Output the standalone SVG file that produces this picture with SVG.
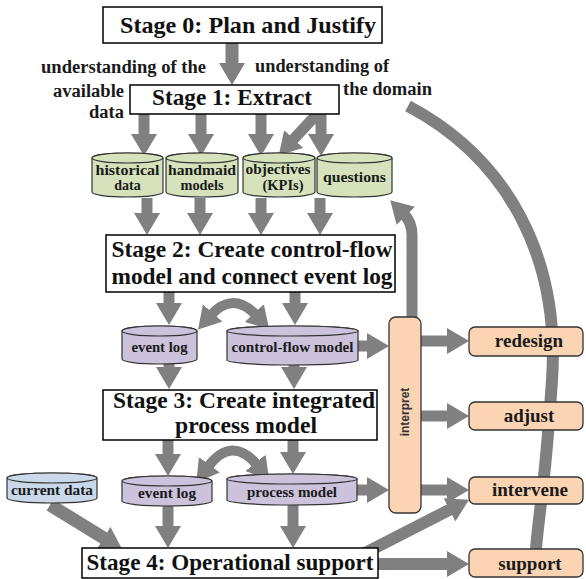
<svg xmlns="http://www.w3.org/2000/svg" width="586" height="579" viewBox="0 0 586 579">
<defs>
<marker id="ah" markerUnits="userSpaceOnUse" markerWidth="22" markerHeight="26" viewBox="0 0 22 26" refX="4" refY="13" orient="auto-start-reverse"><path d="M0,0 L22,13 L0,26 Z" fill="#808080"/></marker>
</defs>
<style>
.ar{fill:none;stroke:#808080;stroke-width:11;marker-end:url(#ah)}
.dbl{marker-start:url(#ah);stroke-width:10}
.box{fill:#fff;stroke:#000;stroke-width:1.5}
.st{font-family:"Liberation Serif",serif;font-weight:bold;font-size:23px;fill:#111;text-anchor:middle}
.lb{font-family:"Liberation Serif",serif;font-weight:bold;font-size:18.5px;fill:#1a1a1a}
.cy{font-family:"Liberation Serif",serif;font-weight:bold;font-size:14px;fill:#1a1a1a;text-anchor:middle}
.green{fill:#d5e2bb;stroke:#333;stroke-width:1.2}
.purple{fill:#ccc2dc;stroke:#333;stroke-width:1.2}
.blue{fill:#c9d9ea;stroke:#333;stroke-width:1.2}
.peach{fill:#fbd4b4;stroke:#333;stroke-width:1.3}
.act{font-family:"Liberation Serif",serif;font-weight:bold;font-size:19px;fill:#1a1a1a;text-anchor:middle}
.vt{font-family:"Liberation Sans",sans-serif;font-weight:bold;font-size:12px;fill:#333;text-anchor:middle}
</style>

<g id="connectors">
<path d="M408,106 C510,160 560,260 552,380 S540,500 536,549" fill="none" stroke="#808080" stroke-width="12"/>
<path class="ar" d="M232,43 V67" style="stroke-width:13"/>
<path class="ar" d="M144,114 V138"/>
<path class="ar" d="M201,114 V138"/>
<path class="ar" d="M261,114 V138"/>
<path class="ar" d="M321,114 V138"/>
<path class="ar" d="M317,114 L291,142"/>
<path class="ar" d="M147,198 V217"/>
<path class="ar" d="M200,198 V217"/>
<path class="ar" d="M261,198 V217"/>
<path class="ar" d="M320,198 V217"/>
<path class="ar" d="M169,292 V307"/>
<path class="ar" d="M295,292 V307"/>
<path class="ar dbl" d="M210,316 Q233,290 257,316"/>
<path class="ar" d="M169,364 V371"/>
<path class="ar" d="M294,365 V371"/>
<path class="ar" d="M358,346 H371"/>
<path class="ar" d="M168,440 V458"/>
<path class="ar" d="M293,440 V456"/>
<path class="ar dbl" d="M207,468 Q232,434 258,466"/>
<path class="ar" d="M357,490 H371"/>
<path class="ar" d="M421,341 H451"/>
<path class="ar" d="M421,416 H451"/>
<path class="ar" d="M421,490 H451"/>
<path class="ar" d="M412,317 V235 Q412,222 403,213"/>
<path class="ar" d="M50,505 L107,540" style="stroke-width:13"/>
<path class="ar" d="M168,506 V530"/>
<path class="ar" d="M293,505 V530"/>
<path class="ar" d="M365,553 L453,508" style="stroke-width:12"/>
<path class="ar" d="M378,564 H451" style="stroke-width:12"/>
</g>

<g id="label-data">
<text class="lb" x="41" y="73" textLength="165" lengthAdjust="spacingAndGlyphs">understanding of the</text>
<text class="lb" x="124" y="97" text-anchor="end">available</text>
<text class="lb" x="124" y="118" text-anchor="end">data</text>
</g>
<g id="label-domain">
<text class="lb" x="255" y="72" textLength="134" lengthAdjust="spacingAndGlyphs">understanding of</text>
<text class="lb" x="343" y="95" textLength="89" lengthAdjust="spacingAndGlyphs">the domain</text>
</g>

<g id="n-stage0">
<rect class="box" x="103" y="7" width="279" height="36"/>
<text class="st" x="248" y="33" textLength="256" lengthAdjust="spacingAndGlyphs">Stage 0: Plan and Justify</text>
</g>
<g id="n-stage1">
<rect class="box" x="130" y="85" width="209" height="29"/>
<text class="st" x="232" y="105" textLength="160" lengthAdjust="spacingAndGlyphs">Stage 1: Extract</text>
</g>

<g id="n-historical">
<path class="green" d="M92,158 V192 A35.5,5 0 0 0 163,192 V158 A35.5,5 0 0 0 92,158 Z"/>
<ellipse class="green" cx="127.5" cy="158" rx="35.5" ry="5"/>
<text class="cy" x="127.5" y="175" textLength="64" lengthAdjust="spacingAndGlyphs">historical</text>
<text class="cy" x="127.5" y="190">data</text>
</g>
<g id="n-handmaid">
<path class="green" d="M166,158 V192 A36,5 0 0 0 238,192 V158 A36,5 0 0 0 166,158 Z"/>
<ellipse class="green" cx="202" cy="158" rx="36" ry="5"/>
<text class="cy" x="202" y="175" textLength="68" lengthAdjust="spacingAndGlyphs">handmaid</text>
<text class="cy" x="202" y="190" textLength="43" lengthAdjust="spacingAndGlyphs">models</text>
</g>
<g id="n-objectives">
<path class="green" d="M243,158 V192 A36,5 0 0 0 315,192 V158 A36,5 0 0 0 243,158 Z"/>
<ellipse class="green" cx="279" cy="158" rx="36" ry="5"/>
<text class="cy" x="278" y="174" textLength="65" lengthAdjust="spacingAndGlyphs">objectives</text>
<text class="cy" x="283" y="190" textLength="41" lengthAdjust="spacingAndGlyphs">(KPIs)</text>
</g>
<g id="n-questions">
<path class="green" d="M317,158 V192 A37.5,5 0 0 0 392,192 V158 A37.5,5 0 0 0 317,158 Z"/>
<ellipse class="green" cx="354.5" cy="158" rx="37.5" ry="5"/>
<text class="cy" x="354.5" y="182" textLength="63" lengthAdjust="spacingAndGlyphs">questions</text>
</g>

<g id="n-stage2">
<rect class="box" x="106" y="235" width="289" height="57"/>
<text class="st" x="252" y="257" textLength="281" lengthAdjust="spacingAndGlyphs">Stage 2: Create control-flow</text>
<text class="st" x="252" y="284" textLength="281" lengthAdjust="spacingAndGlyphs">model and connect event log</text>
</g>

<g id="n-eventlog1">
<path class="purple" d="M122,331 V359 A37.5,5 0 0 0 197,359 V331 A37.5,5 0 0 0 122,331 Z"/>
<ellipse class="purple" cx="159.5" cy="331" rx="37.5" ry="5"/>
<text class="cy" x="159.5" y="352" textLength="56" lengthAdjust="spacingAndGlyphs">event log</text>
</g>
<g id="n-controlflow">
<path class="purple" d="M227,331 V360 A65.5,5 0 0 0 358,360 V331 A65.5,5 0 0 0 227,331 Z"/>
<ellipse class="purple" cx="292.5" cy="331" rx="65.5" ry="5"/>
<text class="cy" x="292.5" y="352" textLength="122" lengthAdjust="spacingAndGlyphs">control-flow model</text>
</g>

<g id="n-stage3">
<rect class="box" x="103" y="390" width="274" height="50"/>
<text class="st" x="244" y="408" textLength="262" lengthAdjust="spacingAndGlyphs">Stage 3: Create integrated</text>
<text class="st" x="246" y="433" textLength="142" lengthAdjust="spacingAndGlyphs">process model</text>
</g>

<g id="n-currentdata">
<path class="blue" d="M7,478 V498 A45,5 0 0 0 97,498 V478 A45,5 0 0 0 7,478 Z"/>
<ellipse class="blue" cx="52" cy="478" rx="45" ry="5"/>
<text class="cy" x="52" y="495" textLength="82" lengthAdjust="spacingAndGlyphs">current data</text>
</g>
<g id="n-eventlog2">
<path class="purple" d="M122,481 V501 A45,5 0 0 0 212,501 V481 A45,5 0 0 0 122,481 Z"/>
<ellipse class="purple" cx="167" cy="481" rx="45" ry="5"/>
<text class="cy" x="167" y="498" textLength="58" lengthAdjust="spacingAndGlyphs">event log</text>
</g>
<g id="n-processmodel">
<path class="purple" d="M227,479 V500 A65,5 0 0 0 357,500 V479 A65,5 0 0 0 227,479 Z"/>
<ellipse class="purple" cx="292" cy="479" rx="65" ry="5"/>
<text class="cy" x="292" y="497" textLength="90" lengthAdjust="spacingAndGlyphs">process model</text>
</g>

<g id="n-stage4">
<rect class="box" x="82" y="548" width="296" height="30"/>
<text class="st" x="230" y="570" textLength="287" lengthAdjust="spacingAndGlyphs">Stage 4: Operational support</text>
</g>

<g id="n-interpret">
<rect class="peach" x="389" y="317" width="32" height="196" rx="7"/>
<text class="vt" transform="translate(409,412) rotate(-90)">interpret</text>
</g>
<g id="n-redesign">
<rect class="peach" x="469" y="327" width="114" height="29" rx="6"/>
<text class="act" x="529" y="347">redesign</text>
</g>
<g id="n-adjust">
<rect class="peach" x="469" y="402" width="114" height="28" rx="6"/>
<text class="act" x="529" y="422">adjust</text>
</g>
<g id="n-intervene">
<rect class="peach" x="469" y="477" width="114" height="27" rx="6"/>
<text class="act" x="530" y="496">intervene</text>
</g>
<g id="n-support">
<rect class="peach" x="469" y="549" width="114" height="28" rx="6"/>
<text class="act" x="530" y="570">support</text>
</g>
</svg>
